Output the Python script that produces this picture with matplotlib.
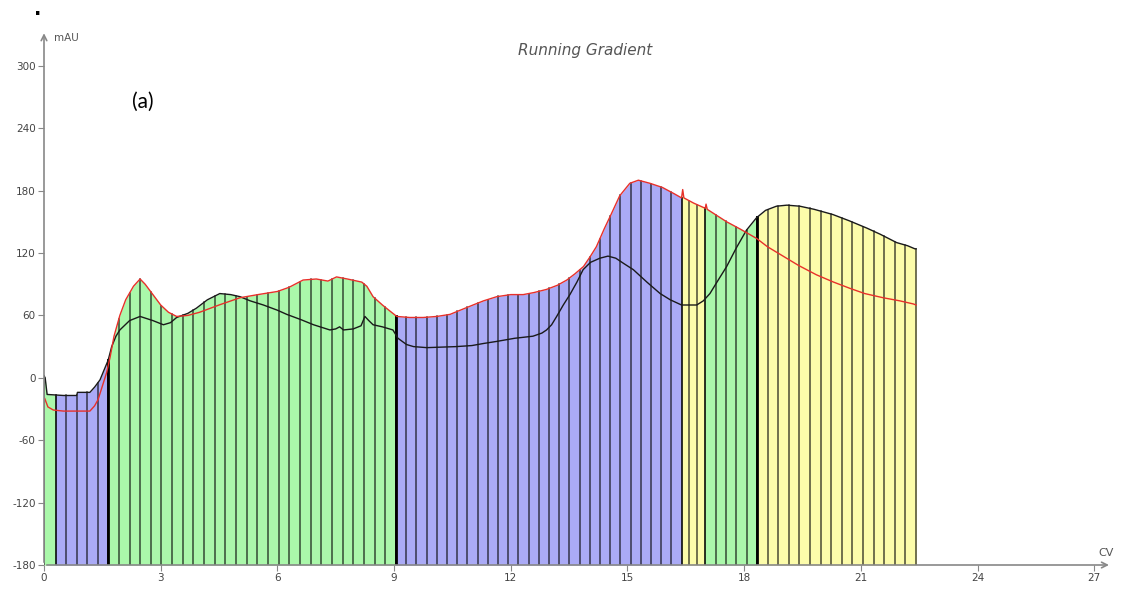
import numpy as np
import matplotlib
matplotlib.use("Agg")
import matplotlib.pyplot as plt
from matplotlib.patches import Rectangle

plt.rcParams['axes.unicode_minus'] = False

# UV trace (red)
red_x = [0.02, 0.1, 0.24, 0.5, 1.0, 1.18, 1.3, 1.39, 1.5, 1.61, 1.7, 1.8, 1.95, 2.1, 2.3, 2.47,
         2.6, 2.8, 3.0, 3.2, 3.41, 3.7, 4.0, 4.5, 5.04, 5.5, 6.0, 6.3, 6.66, 7.0, 7.3, 7.52,
         7.8, 8.17, 8.3, 8.46, 8.7, 8.9, 9.07, 9.4, 9.75, 10.1, 10.44, 10.7, 11.03, 11.3, 11.64,
         12.0, 12.32, 12.6, 12.92, 13.2, 13.44, 13.65, 13.87, 14.05, 14.2, 14.4, 14.59, 14.8,
         15.06, 15.28, 15.58, 15.9, 16.2, 16.39, 16.42, 16.45, 16.7, 17.0, 17.02, 17.05, 17.3,
         17.55, 17.9, 18.32, 18.6, 19.0, 19.4, 19.86, 20.3, 20.72, 21.1, 21.57, 22.0, 22.35, 22.42]
red_y = [-20, -28, -31, -32, -32, -32, -27, -21, -8, 5, 20, 40, 60, 75, 88, 95,
         90, 80, 70, 63, 59, 60, 63, 70, 77, 80, 83, 87, 94, 95, 93, 97,
         95, 92, 88, 78, 70, 64, 59, 58, 58, 59, 61, 65, 70, 74, 78,
         80, 80, 82, 85, 89, 94, 100, 107, 117, 126, 143, 158, 175,
         187, 190, 187, 183, 177, 173, 181, 173, 168, 163, 167, 162, 156,
         150, 143, 134, 126, 117, 108, 99, 92, 86, 81, 77, 74, 71, 70]

# second trace (black)
blk_x = [0.0, 0.03, 0.08, 0.5, 0.84, 0.86, 1.18, 1.3, 1.44, 1.55, 1.65, 1.74, 1.85, 1.95, 2.2,
         2.47, 2.8, 3.07, 3.25, 3.41, 3.7, 3.92, 4.2, 4.52, 4.8, 5.04, 5.3, 5.64, 6.0, 6.24,
         6.6, 6.93, 7.35, 7.5, 7.6, 7.7, 7.95, 8.15, 8.25, 8.35, 8.46, 8.7, 8.97, 9.1, 9.32,
         9.5, 9.84, 10.6, 11.0, 11.3, 11.64, 12.1, 12.57, 12.8, 12.92, 13.05, 13.18, 13.35,
         13.52, 13.7, 13.86, 14.05, 14.29, 14.5, 14.7, 14.9, 15.15, 15.5, 15.84, 16.1, 16.39,
         16.78, 16.95, 17.12, 17.3, 17.55, 17.8, 18.06, 18.32, 18.55, 18.83, 19.1, 19.43,
         19.8, 20.28, 20.7, 21.15, 21.5, 21.92, 22.2, 22.39, 22.42]
blk_y = [2, 0, -16, -17, -17, -14, -14, -9, -2, 8, 17, 30, 40, 46, 55,
         59, 55, 51, 53, 58, 62, 67, 75, 81, 80, 78, 74, 70, 65, 61,
         56, 51, 46, 47, 49, 46, 47, 50, 59, 55, 51, 49, 46, 38, 32,
         30, 29, 30, 31, 33, 35, 38, 40, 43, 46, 51, 59, 70,
         80, 92, 104, 111, 115, 117, 115, 110, 104, 92, 81, 75, 70,
         70, 74, 81, 92, 107, 125, 142, 154, 161, 165, 166, 165,
         162, 157, 151, 144, 138, 130, 127, 124, 124]

# fraction blocks: start, end, colour, number of fractions
sec_start = [0.0, 0.31, 1.65, 9.05, 16.39, 17.0, 18.33]
sec_end = [0.31, 1.65, 9.05, 16.39, 17.0, 18.33, 22.42]
sec_color = ['#aaf8aa', '#aaaaf6', '#aaf8aa', '#aaaaf6', '#fcfcaa', '#aaf8aa', '#fcfcaa']
sec_nfrac = [1, 5, 27, 28, 3, 5, 15]
pool_edges = [1.65, 9.05, 18.33]

y_ticks = [-180, -120, -60, 0, 60, 120, 180, 240, 300]
x_ticks = [0, 3, 6, 9, 12, 15, 18, 21, 24, 27]

fig = plt.figure(figsize=(11.27, 5.92), dpi=100)
ax = fig.add_axes([44 / 1127, 27 / 592, 0.9526, 0.91])
ax.set_xlim(0, 27.6)
ax.set_ylim(-180, 338)


def top_at(x):
    return max(np.interp(x, red_x, red_y), np.interp(x, blk_x, blk_y))


# coloured fractions, filled under the higher of the two traces
for s, e, c, n in zip(sec_start, sec_end, sec_color, sec_nfrac):
    clip = Rectangle((s, -180), e - s, 600, transform=ax.transData)
    for xs, ys in [(red_x, red_y), (blk_x, blk_y)]:
        poly = ax.fill_between(xs, -180, ys, color=c, lw=0, zorder=1)
        poly.set_clip_path(clip)
    for xe in np.linspace(s, e, n + 1):
        ax.plot([xe, xe], [-180, top_at(xe)], color='black', lw=1.1, alpha=0.7, zorder=2)

for xe in pool_edges:
    ax.plot([xe, xe], [-180, top_at(xe)], color='black', lw=2, zorder=3)

ax.plot(blk_x, blk_y, color='#1a1a1a', lw=1.0, zorder=4)
ax.plot(red_x, red_y, color='#e8302a', lw=1.0, zorder=5)

# axes with arrow heads
for sp in ax.spines.values():
    sp.set_visible(False)
ax.annotate('', xy=(0, 334), xytext=(0, -180),
            arrowprops=dict(arrowstyle='->', color='#888888', lw=1.2), zorder=6)
ax.annotate('', xy=(27.45, -180), xytext=(0, -180),
            arrowprops=dict(arrowstyle='->', color='#888888', lw=1.2), zorder=6)

ax.set_yticks(y_ticks)
ax.set_xticks(x_ticks)
ax.tick_params(axis='both', direction='out', length=4, width=0.8, color='#888888',
               labelsize=7.5, labelcolor='#444444', pad=2)

ax.text(0.26, 327, 'mAU', fontsize=7.5, color='#555555', ha='left', va='center')
ax.text(27.3, -168, 'CV', fontsize=8, color='#555555', ha='center', va='center')

fig.text(585 / 1127, 1 - 50 / 592, 'Running Gradient', fontsize=11, style='italic',
         color='#555555', ha='center', va='center')
fig.text(143 / 1127, 1 - 102 / 592, '(a)', fontsize=15, family='Lato',
         ha='center', va='center')
fig.text(38 / 1127, 1 - 15 / 592, '.', fontsize=14, fontweight='bold', ha='center', va='baseline')

fig.savefig('out.png', dpi=100)
